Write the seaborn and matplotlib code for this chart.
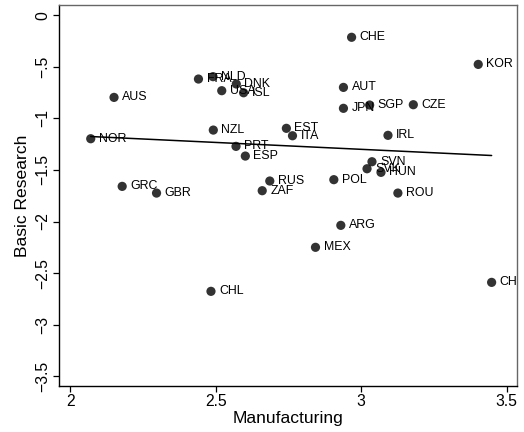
import matplotlib
matplotlib.use("Agg")
import matplotlib.pyplot as plt
import seaborn as sns
import pandas as pd

countries = ["FRA", "NLD", "DNK", "USA", "ISL", "AUT", "JPN", "SGP", "NZL", "EST",
             "ITA", "PRT", "ESP", "IRL", "SVN", "SVK", "HUN", "RUS", "ZAF", "POL",
             "ROU", "ARG", "MEX", "AUS", "NOR", "GRC", "GBR", "KOR", "CZE", "CHL",
             "CHN", "CHE"]
manufacturing = [2.441, 2.491, 2.571, 2.521, 2.596, 2.939, 2.939, 3.029, 2.492, 2.743,
                 2.764, 2.570, 2.602, 3.092, 3.037, 3.020, 3.068, 2.686, 2.660, 2.906,
                 3.126, 2.930, 2.843, 2.151, 2.071, 2.179, 2.297, 3.402, 3.179, 2.484,
                 3.448, 2.967]
basic_research = [-0.618, -0.595, -0.666, -0.731, -0.751, -0.699, -0.902, -0.870, -1.113, -1.096,
                  -1.168, -1.271, -1.365, -1.164, -1.420, -1.488, -1.523, -1.607, -1.701, -1.594,
                  -1.724, -2.037, -2.250, -0.796, -1.197, -1.659, -1.724, -0.476, -0.867, -2.677,
                  -2.590, -0.213]

x_ticks = [2, 2.5, 3, 3.5]
x_tick_labels = ["2", "2.5", "3", "3.5"]
y_ticks = [0, -0.5, -1, -1.5, -2, -2.5, -3, -3.5]
y_tick_labels = ["0", "\u2212.5", "\u22121", "\u22121.5", "\u22122", "\u22122.5", "\u22123", "\u22123.5"]

df = pd.DataFrame({"country": countries, "Manufacturing": manufacturing,
                   "Basic Research": basic_research})

sns.set_theme(style="white")
plt.rcParams["font.family"] = ["Liberation Sans", "DejaVu Sans"]

fig = plt.figure(figsize=(5.24, 4.32), dpi=100)
ax = fig.add_axes([0.1126, 0.1065, 0.8734, 0.8819])

sns.regplot(data=df, x="Manufacturing", y="Basic Research", ax=ax, ci=None,
            scatter_kws=dict(s=44, color="black", edgecolor="none", zorder=3),
            line_kws=dict(color="black", lw=1.1, zorder=2))

for c, xv, yv in zip(df["country"], df["Manufacturing"], df["Basic Research"]):
    ax.annotate(c, (xv, yv), xytext=(5.8, 0), textcoords="offset points",
                ha="left", va="center", fontsize=8.9, color="black",
                annotation_clip=False, clip_on=True, zorder=4)

ax.set_xlim(1.962, 3.534)
ax.set_ylim(-3.595, 0.1)
ax.set_xticks(x_ticks)
ax.set_xticklabels(x_tick_labels)
ax.set_yticks(y_ticks)
ax.set_yticklabels(y_tick_labels, rotation=90, va="center")
ax.tick_params(axis="both", direction="out", length=4, width=0.9, colors="black",
               labelsize=11.3, left=True, bottom=True, pad=2)
ax.set_xlabel("Manufacturing", fontsize=12.6, labelpad=1, color="black")
ax.set_ylabel("Basic Research", fontsize=12.6, labelpad=4, color="black")

for side in ["left", "bottom"]:
    ax.spines[side].set_color("black")
    ax.spines[side].set_linewidth(1.0)
for side in ["top", "right"]:
    ax.spines[side].set_color("#666666")
    ax.spines[side].set_linewidth(1.0)

fig.savefig("out.png", dpi=100, facecolor="white")
